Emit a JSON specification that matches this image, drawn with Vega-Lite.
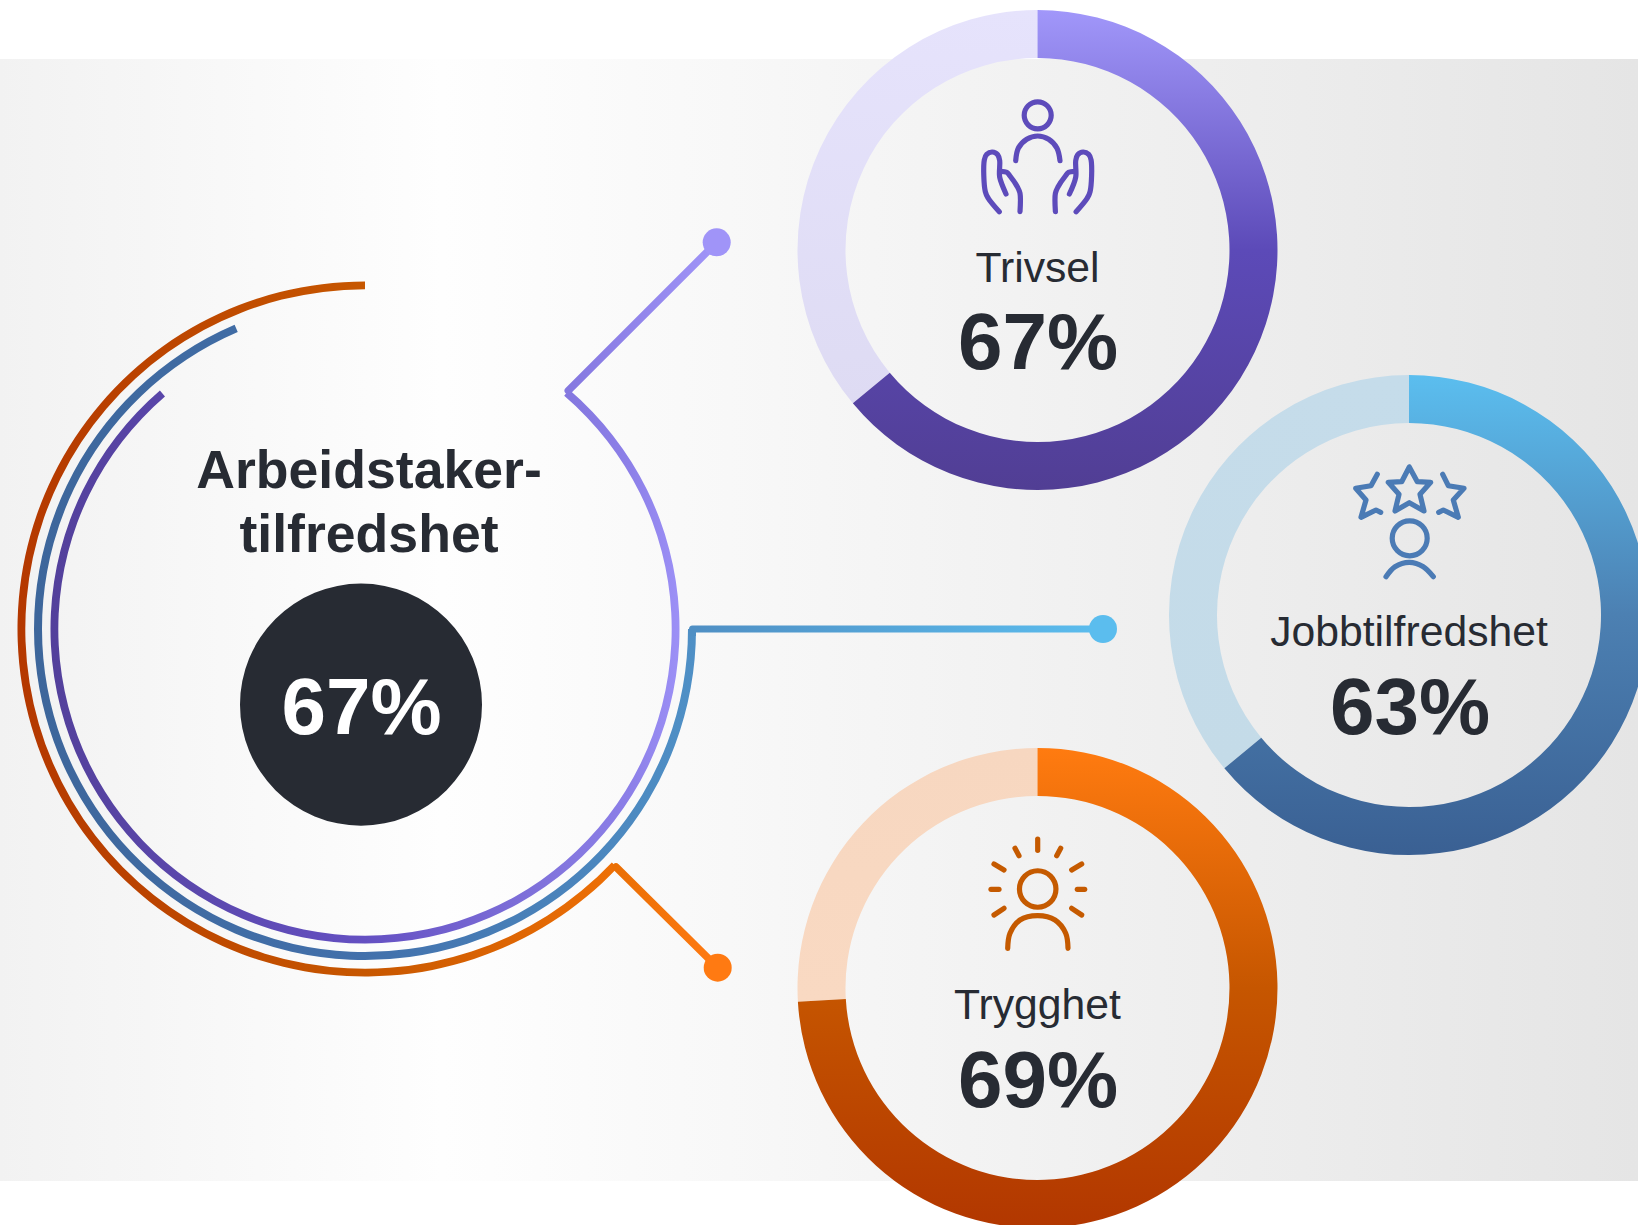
{
"$schema":"https://vega.github.io/schema/vega-lite/v6.json",
"width":1638,"height":1225,"padding":0,"autosize":{"type":"none"},
"background":"#ffffff",
"config":{"view":{"stroke":null}},
"datasets":{
"band":[{"x":0,"x2":1638,"y":59,"y2":1181}],
"donuts":[
{"series":"Trivsel","part":"filled","x":1037.5,"y":250,"start":0,"end":230.3},
{"series":"Trivsel","part":"rest","x":1037.5,"y":250,"start":230.3,"end":360},
{"series":"Jobbtilfredshet","part":"filled","x":1409,"y":615,"start":0,"end":230.3},
{"series":"Jobbtilfredshet","part":"rest","x":1409,"y":615,"start":230.3,"end":360},
{"series":"Trygghet","part":"filled","x":1037.5,"y":988,"start":0,"end":266.7},
{"series":"Trygghet","part":"rest","x":1037.5,"y":988,"start":266.7,"end":360}
],
"rings":[
{"series":"Trivsel","x":365,"y":629,"start":40.5,"end":319.3},
{"series":"Jobbtilfredshet","x":365,"y":629,"start":90,"end":336.8},
{"series":"Trygghet","x":365,"y":629,"start":133.4,"end":360}
],
"links":[
{"series":"Trivsel","i":0,"x":568.3,"y":390.7},{"series":"Trivsel","i":1,"x":716.7,"y":242.3},
{"series":"Jobbtilfredshet","i":0,"x":692.5,"y":636},{"series":"Jobbtilfredshet","i":1,"x":692.5,"y":629},{"series":"Jobbtilfredshet","i":2,"x":1103,"y":629},
{"series":"Trygghet","i":0,"x":616,"y":867},{"series":"Trygghet","i":1,"x":717.7,"y":967.7}
],
"dots":[
{"series":"Trivsel","x":716.7,"y":242.3},
{"series":"Jobbtilfredshet","x":1103,"y":629},
{"series":"Trygghet","x":717.7,"y":967.7}
],
"total":[{"x":361,"y":704.6}],
"heads":[
{"series":"Trivsel","x":1037.7,"y":115.3,"d":27},
{"series":"Jobbtilfredshet","x":1409.7,"y":538.3,"d":35},
{"series":"Trygghet","x":1037.7,"y":889,"d":36.5}
],
"texts":[
{"role":"title","text":"Arbeidstaker-","x":369,"y":488},
{"role":"title","text":"tilfredshet","x":369,"y":552},
{"role":"total","text":"67%","x":361.5,"y":734},
{"role":"label","text":"Trivsel","x":1037.5,"y":282},
{"role":"label","text":"Jobbtilfredshet","x":1409,"y":646},
{"role":"label","text":"Trygghet","x":1037.5,"y":1019},
{"role":"pct","text":"67%","x":1038,"y":369},
{"role":"pct","text":"63%","x":1410,"y":734},
{"role":"pct","text":"69%","x":1038,"y":1107}
],
"curves":[
{"series":"Trivsel","part":"shoulder","i":0,"x":1015.7,"y":160.7},{"series":"Trivsel","part":"shoulder","i":1,"x":1018.3,"y":148.3},{"series":"Trivsel","part":"shoulder","i":2,"x":1026.7,"y":139.3},{"series":"Trivsel","part":"shoulder","i":3,"x":1037.7,"y":136},{"series":"Trivsel","part":"shoulder","i":4,"x":1048.7,"y":139.3},{"series":"Trivsel","part":"shoulder","i":5,"x":1057,"y":148.3},{"series":"Trivsel","part":"shoulder","i":6,"x":1060,"y":160.7},
{"series":"Trivsel","part":"lhandA","i":0,"x":999.3,"y":211.7},{"series":"Trivsel","part":"lhandA","i":1,"x":988.3,"y":198.3},{"series":"Trivsel","part":"lhandA","i":2,"x":985.3,"y":191.7},{"series":"Trivsel","part":"lhandA","i":3,"x":984.3,"y":160},{"series":"Trivsel","part":"lhandA","i":4,"x":986.7,"y":154.3},{"series":"Trivsel","part":"lhandA","i":5,"x":992.3,"y":152},{"series":"Trivsel","part":"lhandA","i":6,"x":997.7,"y":154.7},{"series":"Trivsel","part":"lhandA","i":7,"x":999.7,"y":160.7},{"series":"Trivsel","part":"lhandA","i":8,"x":999.7,"y":177.3},{"series":"Trivsel","part":"lhandA","i":9,"x":1006,"y":194},
{"series":"Trivsel","part":"lhandB","i":0,"x":1020,"y":211.7},{"series":"Trivsel","part":"lhandB","i":1,"x":1020,"y":193.3},{"series":"Trivsel","part":"lhandB","i":2,"x":1017.3,"y":186.7},{"series":"Trivsel","part":"lhandB","i":3,"x":1010,"y":176},{"series":"Trivsel","part":"lhandB","i":4,"x":1006.7,"y":172.3},{"series":"Trivsel","part":"lhandB","i":5,"x":1000.7,"y":171.3},
{"series":"Trivsel","part":"rhandA","i":0,"x":1076.1,"y":211.7},{"series":"Trivsel","part":"rhandA","i":1,"x":1087.1,"y":198.3},{"series":"Trivsel","part":"rhandA","i":2,"x":1090.1,"y":191.7},{"series":"Trivsel","part":"rhandA","i":3,"x":1091.1,"y":160},{"series":"Trivsel","part":"rhandA","i":4,"x":1088.7,"y":154.3},{"series":"Trivsel","part":"rhandA","i":5,"x":1083.1,"y":152},{"series":"Trivsel","part":"rhandA","i":6,"x":1077.7,"y":154.7},{"series":"Trivsel","part":"rhandA","i":7,"x":1075.7,"y":160.7},{"series":"Trivsel","part":"rhandA","i":8,"x":1075.7,"y":177.3},{"series":"Trivsel","part":"rhandA","i":9,"x":1069.4,"y":194},
{"series":"Trivsel","part":"rhandB","i":0,"x":1055.4,"y":211.7},{"series":"Trivsel","part":"rhandB","i":1,"x":1055.4,"y":193.3},{"series":"Trivsel","part":"rhandB","i":2,"x":1058.1,"y":186.7},{"series":"Trivsel","part":"rhandB","i":3,"x":1065.4,"y":176},{"series":"Trivsel","part":"rhandB","i":4,"x":1068.7,"y":172.3},{"series":"Trivsel","part":"rhandB","i":5,"x":1074.7,"y":171.3},
{"series":"Jobbtilfredshet","part":"shoulder","i":0,"x":1386,"y":576.7},{"series":"Jobbtilfredshet","part":"shoulder","i":1,"x":1395,"y":566.7},{"series":"Jobbtilfredshet","part":"shoulder","i":2,"x":1409.3,"y":562.3},{"series":"Jobbtilfredshet","part":"shoulder","i":3,"x":1423.3,"y":566.7},{"series":"Jobbtilfredshet","part":"shoulder","i":4,"x":1433.3,"y":576.7},
{"series":"Trygghet","part":"shoulder","i":0,"x":1007.7,"y":948.3},{"series":"Trygghet","part":"shoulder","i":1,"x":1010,"y":933.3},{"series":"Trygghet","part":"shoulder","i":2,"x":1020,"y":920},{"series":"Trygghet","part":"shoulder","i":3,"x":1037.7,"y":915.7},{"series":"Trygghet","part":"shoulder","i":4,"x":1055,"y":920},{"series":"Trygghet","part":"shoulder","i":5,"x":1065.7,"y":933.3},{"series":"Trygghet","part":"shoulder","i":6,"x":1068,"y":948.3}
],
"straights":[
{"series":"Jobbtilfredshet","part":"starC","i":0,"x":1409.3,"y":467},{"series":"Jobbtilfredshet","part":"starC","i":1,"x":1417.3,"y":481.7},{"series":"Jobbtilfredshet","part":"starC","i":2,"x":1430.7,"y":482.3},{"series":"Jobbtilfredshet","part":"starC","i":3,"x":1420,"y":494.3},{"series":"Jobbtilfredshet","part":"starC","i":4,"x":1424,"y":511},{"series":"Jobbtilfredshet","part":"starC","i":5,"x":1409.3,"y":502.7},{"series":"Jobbtilfredshet","part":"starC","i":6,"x":1395,"y":511},{"series":"Jobbtilfredshet","part":"starC","i":7,"x":1399,"y":494.3},{"series":"Jobbtilfredshet","part":"starC","i":8,"x":1388.3,"y":482.3},{"series":"Jobbtilfredshet","part":"starC","i":9,"x":1401.7,"y":481.7},{"series":"Jobbtilfredshet","part":"starC","i":10,"x":1409.3,"y":467},
{"series":"Jobbtilfredshet","part":"starL","i":0,"x":1377.3,"y":474.3},{"series":"Jobbtilfredshet","part":"starL","i":1,"x":1371,"y":485.7},{"series":"Jobbtilfredshet","part":"starL","i":2,"x":1355.7,"y":488.3},{"series":"Jobbtilfredshet","part":"starL","i":3,"x":1366,"y":500},{"series":"Jobbtilfredshet","part":"starL","i":4,"x":1361,"y":517.3},{"series":"Jobbtilfredshet","part":"starL","i":5,"x":1376,"y":510},{"series":"Jobbtilfredshet","part":"starL","i":6,"x":1380.7,"y":512.3},
{"series":"Jobbtilfredshet","part":"starR","i":0,"x":1442.7,"y":474.3},{"series":"Jobbtilfredshet","part":"starR","i":1,"x":1448.3,"y":485.7},{"series":"Jobbtilfredshet","part":"starR","i":2,"x":1464,"y":488.3},{"series":"Jobbtilfredshet","part":"starR","i":3,"x":1453.3,"y":500},{"series":"Jobbtilfredshet","part":"starR","i":4,"x":1458.3,"y":517.3},{"series":"Jobbtilfredshet","part":"starR","i":5,"x":1443.3,"y":510},{"series":"Jobbtilfredshet","part":"starR","i":6,"x":1438.7,"y":512.3},
{"series":"Trygghet","part":"ray1","i":0,"x":1037.7,"y":839},{"series":"Trygghet","part":"ray1","i":1,"x":1037.7,"y":850.3},
{"series":"Trygghet","part":"ray2","i":0,"x":1015,"y":848.3},{"series":"Trygghet","part":"ray2","i":1,"x":1019,"y":855.7},
{"series":"Trygghet","part":"ray3","i":0,"x":1060.7,"y":848.3},{"series":"Trygghet","part":"ray3","i":1,"x":1056.7,"y":855.7},
{"series":"Trygghet","part":"ray4","i":0,"x":994,"y":864},{"series":"Trygghet","part":"ray4","i":1,"x":1004,"y":870},
{"series":"Trygghet","part":"ray5","i":0,"x":1081.7,"y":864},{"series":"Trygghet","part":"ray5","i":1,"x":1071.7,"y":870},
{"series":"Trygghet","part":"ray6","i":0,"x":991,"y":889.3},{"series":"Trygghet","part":"ray6","i":1,"x":999,"y":889.3},
{"series":"Trygghet","part":"ray7","i":0,"x":1077.3,"y":889.3},{"series":"Trygghet","part":"ray7","i":1,"x":1084.7,"y":889.3},
{"series":"Trygghet","part":"ray8","i":0,"x":994,"y":915},{"series":"Trygghet","part":"ray8","i":1,"x":1004,"y":908.3},
{"series":"Trygghet","part":"ray9","i":0,"x":1081.7,"y":915},{"series":"Trygghet","part":"ray9","i":1,"x":1071.7,"y":908.3}
]
},
"encoding":{
"x":{"field":"x","type":"quantitative","axis":null,"scale":{"domain":[0,1638],"nice":false,"zero":false}},
"y":{"field":"y","type":"quantitative","axis":null,"scale":{"domain":[0,1225],"reverse":true,"nice":false,"zero":false}}
},
"layer":[
{"data":{"name":"band"},"mark":{"type":"rect","fill":{"gradient":"linear","x1":0,"y1":0,"x2":1,"y2":0,"stops":[{"offset":0,"color":"#f2f2f2"},{"offset":0.27,"color":"#fefefe"},{"offset":1,"color":"#e5e5e5"}]}},"encoding":{"x2":{"field":"x2"},"y2":{"field":"y2"}}},

{"data":{"name":"donuts"},"transform":[{"filter":"datum.series==='Trivsel'&&datum.part==='rest'"}],"mark":{"type":"arc","radius":240,"radius2":192,"fill":{"gradient":"linear","x1":0,"y1":0,"x2":0,"y2":1,"stops":[{"offset":0,"color":"#e6e3fc"},{"offset":1,"color":"#dedbf3"}]}},"encoding":{"theta":{"field":"start","type":"quantitative","stack":false,"scale":{"domain":[0,360],"range":[0,6.283185]}},"theta2":{"field":"end"}}},
{"data":{"name":"donuts"},"transform":[{"filter":"datum.series==='Jobbtilfredshet'&&datum.part==='rest'"}],"mark":{"type":"arc","radius":240,"radius2":192,"fill":{"gradient":"linear","x1":0,"y1":0,"x2":0,"y2":1,"stops":[{"offset":0,"color":"#c5dcea"},{"offset":1,"color":"#c4dbe8"}]}},"encoding":{"theta":{"field":"start","type":"quantitative","stack":false,"scale":{"domain":[0,360],"range":[0,6.283185]}},"theta2":{"field":"end"}}},
{"data":{"name":"donuts"},"transform":[{"filter":"datum.series==='Trygghet'&&datum.part==='rest'"}],"mark":{"type":"arc","radius":240,"radius2":192,"fill":{"gradient":"linear","x1":0,"y1":0,"x2":0,"y2":1,"stops":[{"offset":0,"color":"#f7d7c0"},{"offset":1,"color":"#f9d9c2"}]}},"encoding":{"theta":{"field":"start","type":"quantitative","stack":false,"scale":{"domain":[0,360],"range":[0,6.283185]}},"theta2":{"field":"end"}}},

{"data":{"name":"donuts"},"transform":[{"filter":"datum.series==='Trivsel'&&datum.part==='filled'"}],"mark":{"type":"arc","radius":240,"radius2":192,"fill":{"gradient":"linear","x1":0,"y1":0,"x2":0,"y2":1,"stops":[{"offset":0,"color":"#a197fa"},{"offset":0.5,"color":"#5c4ab8"},{"offset":1,"color":"#513e94"}]}},"encoding":{"theta":{"field":"start","type":"quantitative","stack":false,"scale":{"domain":[0,360],"range":[0,6.283185]}},"theta2":{"field":"end"}}},
{"data":{"name":"donuts"},"transform":[{"filter":"datum.series==='Jobbtilfredshet'&&datum.part==='filled'"}],"mark":{"type":"arc","radius":240,"radius2":192,"fill":{"gradient":"linear","x1":0,"y1":0,"x2":0,"y2":1,"stops":[{"offset":0,"color":"#5bbeef"},{"offset":0.5,"color":"#4c80b2"},{"offset":1,"color":"#3a6093"}]}},"encoding":{"theta":{"field":"start","type":"quantitative","stack":false,"scale":{"domain":[0,360],"range":[0,6.283185]}},"theta2":{"field":"end"}}},
{"data":{"name":"donuts"},"transform":[{"filter":"datum.series==='Trygghet'&&datum.part==='filled'"}],"mark":{"type":"arc","radius":240,"radius2":192,"fill":{"gradient":"linear","x1":0,"y1":0,"x2":0,"y2":1,"stops":[{"offset":0,"color":"#ff7b10"},{"offset":0.5,"color":"#c65600"},{"offset":1,"color":"#b23700"}]}},"encoding":{"theta":{"field":"start","type":"quantitative","stack":false,"scale":{"domain":[0,360],"range":[0,6.283185]}},"theta2":{"field":"end"}}},

{"data":{"name":"rings"},"transform":[{"filter":"datum.series==='Trivsel'"}],"mark":{"type":"arc","radius":314.5,"radius2":306.7,"fill":{"gradient":"linear","x1":0,"y1":0,"x2":1,"y2":0,"stops":[{"offset":0,"color":"#53409b"},{"offset":0.5,"color":"#6450c2"},{"offset":0.83,"color":"#8578e0"},{"offset":0.92,"color":"#8c7fe8"},{"offset":1,"color":"#9c90f6"}]}},"encoding":{"theta":{"field":"start","type":"quantitative","stack":false,"scale":{"domain":[0,360],"range":[0,6.283185]}},"theta2":{"field":"end"}}},
{"data":{"name":"rings"},"transform":[{"filter":"datum.series==='Jobbtilfredshet'"}],"mark":{"type":"arc","radius":331,"radius2":323,"fill":{"gradient":"linear","x1":0,"y1":0,"x2":1,"y2":0,"stops":[{"offset":0,"color":"#3d669b"},{"offset":0.5,"color":"#4270ab"},{"offset":1,"color":"#4f90c6"}]}},"encoding":{"theta":{"field":"start","type":"quantitative","stack":false,"scale":{"domain":[0,360],"range":[0,6.283185]}},"theta2":{"field":"end"}}},
{"data":{"name":"rings"},"transform":[{"filter":"datum.series==='Trygghet'"}],"mark":{"type":"arc","radius":347.5,"radius2":339.7,"fill":{"gradient":"linear","x1":0,"y1":0,"x2":1,"y2":0,"stops":[{"offset":0,"color":"#b43800"},{"offset":0.58,"color":"#c75700"},{"offset":1,"color":"#ee7006"}]}},"encoding":{"theta":{"field":"start","type":"quantitative","stack":false,"scale":{"domain":[0,360],"range":[0,6.283185]}},"theta2":{"field":"end"}}},

{"data":{"name":"links"},"transform":[{"filter":"datum.series==='Trivsel'"}],"mark":{"type":"line","strokeWidth":7.5,"strokeJoin":"round","strokeCap":"round","stroke":{"gradient":"linear","x1":0,"y1":0,"x2":1,"y2":0,"stops":[{"offset":0,"color":"#8578e0"},{"offset":1,"color":"#a094f8"}]}},"encoding":{"order":{"field":"i"}}},
{"data":{"name":"links"},"transform":[{"filter":"datum.series==='Jobbtilfredshet'"}],"mark":{"type":"line","strokeWidth":7,"strokeJoin":"round","stroke":{"gradient":"linear","x1":0,"y1":0,"x2":1,"y2":0,"stops":[{"offset":0,"color":"#4f8fc4"},{"offset":1,"color":"#5bbdee"}]}},"encoding":{"order":{"field":"i"}}},
{"data":{"name":"links"},"transform":[{"filter":"datum.series==='Trygghet'"}],"mark":{"type":"line","strokeWidth":7.5,"strokeJoin":"round","strokeCap":"round","stroke":{"gradient":"linear","x1":0,"y1":0,"x2":1,"y2":0,"stops":[{"offset":0,"color":"#ea6f05"},{"offset":1,"color":"#ff7a12"}]}},"encoding":{"order":{"field":"i"}}},

{"data":{"name":"dots"},"mark":{"type":"point","shape":"circle","filled":true,"size":784,"opacity":1},"encoding":{"fill":{"field":"series","type":"nominal","legend":null,"scale":{"domain":["Trivsel","Jobbtilfredshet","Trygghet"],"range":["#a094f8","#5bbdee","#ff7a12"]}}}},

{"data":{"name":"total"},"mark":{"type":"point","shape":"circle","filled":true,"size":58564,"color":"#272b33","opacity":1}},

{"data":{"name":"curves"},"mark":{"type":"line","interpolate":"catmull-rom","strokeWidth":5.2,"strokeCap":"round","strokeJoin":"round"},"encoding":{"order":{"field":"i"},"detail":{"field":"part"},"stroke":{"field":"series","type":"nominal","legend":null,"scale":{"domain":["Trivsel","Jobbtilfredshet","Trygghet"],"range":["#5d4bbb","#4b7bb5","#c55a00"]}}}},
{"data":{"name":"straights"},"mark":{"type":"line","strokeWidth":5.2,"strokeCap":"round","strokeJoin":"round"},"encoding":{"order":{"field":"i"},"detail":{"field":"part"},"stroke":{"field":"series","type":"nominal","legend":null,"scale":{"domain":["Trivsel","Jobbtilfredshet","Trygghet"],"range":["#5d4bbb","#4b7bb5","#c55a00"]}}}},
{"data":{"name":"heads"},"transform":[{"filter":"datum.series==='Trivsel'"}],"mark":{"type":"point","shape":"circle","filled":false,"size":729,"strokeWidth":5.2,"opacity":1,"stroke":"#5d4bbb"}},
{"data":{"name":"heads"},"transform":[{"filter":"datum.series==='Jobbtilfredshet'"}],"mark":{"type":"point","shape":"circle","filled":false,"size":1225,"strokeWidth":5.2,"opacity":1,"stroke":"#4b7bb5"}},
{"data":{"name":"heads"},"transform":[{"filter":"datum.series==='Trygghet'"}],"mark":{"type":"point","shape":"circle","filled":false,"size":1332,"strokeWidth":5.2,"opacity":1,"stroke":"#c55a00"}},

{"data":{"name":"texts"},"transform":[{"filter":"datum.role==='title'"}],"mark":{"type":"text","font":"Liberation Sans","fontWeight":"bold","fontSize":53.6,"align":"center","baseline":"alphabetic","fill":"#272b33"},"encoding":{"text":{"field":"text"}}},
{"data":{"name":"texts"},"transform":[{"filter":"datum.role==='total'"}],"mark":{"type":"text","font":"Liberation Sans","fontWeight":"bold","fontSize":80,"align":"center","baseline":"alphabetic","fill":"#ffffff"},"encoding":{"text":{"field":"text"}}},
{"data":{"name":"texts"},"transform":[{"filter":"datum.role==='label'"}],"mark":{"type":"text","font":"Liberation Sans","fontSize":42.7,"align":"center","baseline":"alphabetic","fill":"#272b33"},"encoding":{"text":{"field":"text"}}},
{"data":{"name":"texts"},"transform":[{"filter":"datum.role==='pct'"}],"mark":{"type":"text","font":"Liberation Sans","fontWeight":"bold","fontSize":80,"align":"center","baseline":"alphabetic","fill":"#272b33"},"encoding":{"text":{"field":"text"}}}
]
}
